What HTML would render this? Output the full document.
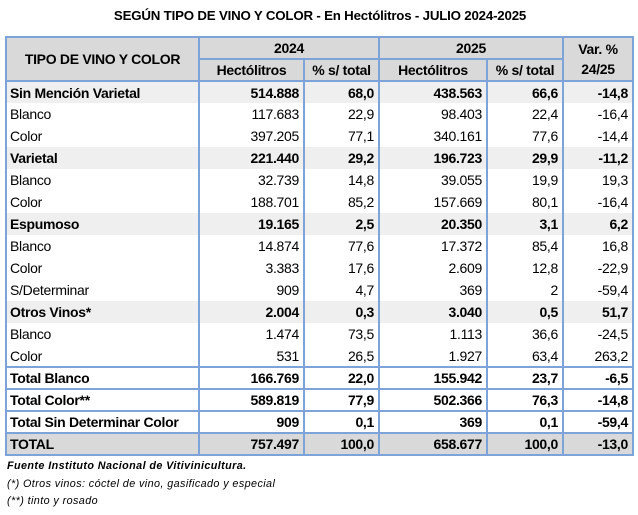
<!DOCTYPE html>
<html><head><meta charset="utf-8"><style>
body{margin:0;width:638px;height:515px;background:#fff;font-family:"Liberation Sans",sans-serif;color:#000;position:relative;overflow:hidden}
.title{position:absolute;top:8px;left:60px;width:520px;text-align:center;font-weight:bold;font-size:13.3px;letter-spacing:-0.2px;white-space:nowrap}
table{position:absolute;left:5px;top:36px;border-collapse:collapse;table-layout:fixed;font-size:14px;letter-spacing:-0.3px}
td{height:22px;padding:0 4px;border-left:2px solid #7da3d8;border-right:2px solid #7da3d8;white-space:nowrap;text-align:right;line-height:20px;box-sizing:border-box}
td.l{text-align:left;padding-left:3px}
tr.h td{background:#d9d9d9;font-weight:bold;text-align:center;border:2px solid #7da3d8}
tr.g td{background:#efefef;font-weight:bold}
tr.t td{font-weight:bold;border-top:2px solid #7da3d8}
tr.T td{font-weight:bold;background:#d9d9d9;border-top:2px solid #7da3d8;border-bottom:2px solid #7da3d8}
.fn{position:absolute;left:7px;font-style:italic;font-size:10.8px;letter-spacing:0.4px}
</style></head><body>
<div class="title">SEGÚN TIPO DE VINO Y COLOR - En Hectólitros - JULIO 2024-2025</div>
<table>
<colgroup><col style="width:193px"><col style="width:105px"><col style="width:75px"><col style="width:108px"><col style="width:76px"><col style="width:70px"></colgroup>
<tr class="h"><td rowspan="2">TIPO DE VINO Y COLOR</td><td colspan="2">2024</td><td colspan="2">2025</td><td rowspan="2" style="line-height:20px">Var. %<br>24/25</td></tr>
<tr class="h"><td>Hectólitros</td><td>% s/ total</td><td>Hectólitros</td><td>% s/ total</td></tr>
<tr class="g"><td class="l">Sin Mención Varietal</td><td>514.888</td><td>68,0</td><td>438.563</td><td>66,6</td><td>-14,8</td></tr>
<tr><td class="l">Blanco</td><td>117.683</td><td>22,9</td><td>98.403</td><td>22,4</td><td>-16,4</td></tr>
<tr><td class="l">Color</td><td>397.205</td><td>77,1</td><td>340.161</td><td>77,6</td><td>-14,4</td></tr>
<tr class="g"><td class="l">Varietal</td><td>221.440</td><td>29,2</td><td>196.723</td><td>29,9</td><td>-11,2</td></tr>
<tr><td class="l">Blanco</td><td>32.739</td><td>14,8</td><td>39.055</td><td>19,9</td><td>19,3</td></tr>
<tr><td class="l">Color</td><td>188.701</td><td>85,2</td><td>157.669</td><td>80,1</td><td>-16,4</td></tr>
<tr class="g"><td class="l">Espumoso</td><td>19.165</td><td>2,5</td><td>20.350</td><td>3,1</td><td>6,2</td></tr>
<tr><td class="l">Blanco</td><td>14.874</td><td>77,6</td><td>17.372</td><td>85,4</td><td>16,8</td></tr>
<tr><td class="l">Color</td><td>3.383</td><td>17,6</td><td>2.609</td><td>12,8</td><td>-22,9</td></tr>
<tr><td class="l">S/Determinar</td><td>909</td><td>4,7</td><td>369</td><td>2</td><td>-59,4</td></tr>
<tr class="g"><td class="l">Otros Vinos*</td><td>2.004</td><td>0,3</td><td>3.040</td><td>0,5</td><td>51,7</td></tr>
<tr><td class="l">Blanco</td><td>1.474</td><td>73,5</td><td>1.113</td><td>36,6</td><td>-24,5</td></tr>
<tr><td class="l">Color</td><td>531</td><td>26,5</td><td>1.927</td><td>63,4</td><td>263,2</td></tr>
<tr class="t"><td class="l">Total Blanco</td><td>166.769</td><td>22,0</td><td>155.942</td><td>23,7</td><td>-6,5</td></tr>
<tr class="t"><td class="l">Total Color**</td><td>589.819</td><td>77,9</td><td>502.366</td><td>76,3</td><td>-14,8</td></tr>
<tr class="t"><td class="l">Total Sin Determinar Color</td><td>909</td><td>0,1</td><td>369</td><td>0,1</td><td>-59,4</td></tr>
<tr class="T"><td class="l">TOTAL</td><td>757.497</td><td>100,0</td><td>658.677</td><td>100,0</td><td>-13,0</td></tr>
</table>
<div class="fn" style="top:460px;font-weight:bold">Fuente Instituto Nacional de Vitivinicultura.</div>
<div class="fn" style="top:478px">(*) Otros vinos: cóctel de vino, gasificado y especial</div>
<div class="fn" style="top:495px">(**) tinto y rosado</div>
</body></html>
